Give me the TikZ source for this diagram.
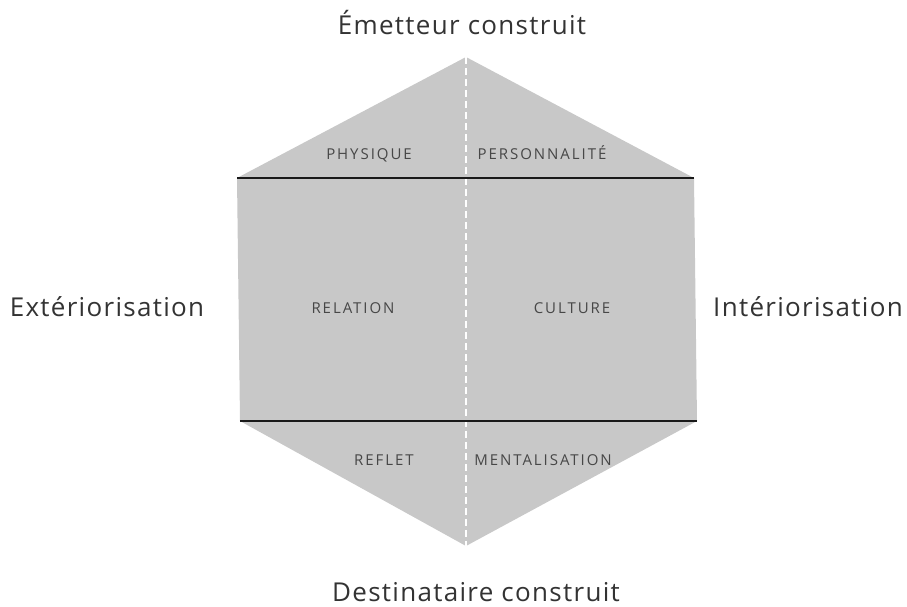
\documentclass[tikz,border=0pt]{standalone}
\usepackage{fontspec}
\setmainfont{Open Sans}
\newfontfamily\bigfont[LetterSpace=5]{Open Sans}
\newfontfamily\smallfont[LetterSpace=13]{Open Sans}
\definecolor{hexgray}{RGB}{200,200,200}
\tikzset{
  big/.style={font=\bigfont\fontsize{26}{30}\selectfont, inner sep=0pt, anchor=base, text=black!80},
  small/.style={font=\smallfont\fontsize{15}{18}\selectfont, inner sep=0pt, anchor=base, text=black!72},
  divider/.style={line width=1.6pt, black!90},
  midline/.style={white, line width=1.8pt, dash pattern=on 7pt off 4pt}
}
\begin{document}
\begin{tikzpicture}[x=1pt,y=-1pt]
\useasboundingbox (0,0) rectangle (907,607);
\coordinate (T) at (466,57);
\coordinate (UL) at (237,178);
\coordinate (UR) at (694,178);
\coordinate (LL) at (240,421);
\coordinate (LR) at (697,421);
\coordinate (B) at (466,546);
\fill[hexgray] (T) -- (UR) -- (LR) -- (B) -- (LL) -- (UL) -- cycle;
\draw[midline] (T) -- (B);
\draw[divider] (UL) -- (UR);
\draw[divider] (LL) -- (LR);
\node[big] (em) at (462,35) {Émetteur construit};
\node[big] (de) at (476,601) {Destinataire construit};
\node[big] (ex) at (107,316) {Extériorisation};
\node[big] (in) at (808,316) {Intériorisation};
\node[small] (ph) at (369,159) {PHYSIQUE};
\node[small] (pe) at (542,159) {PERSONNALITÉ};
\node[small] (re) at (353,313) {RELATION};
\node[small] (cu) at (572,313) {CULTURE};
\node[small] (rf) at (384,465) {REFLET};
\node[small] (me) at (543,465) {MENTALISATION};
\end{tikzpicture}
\end{document}
